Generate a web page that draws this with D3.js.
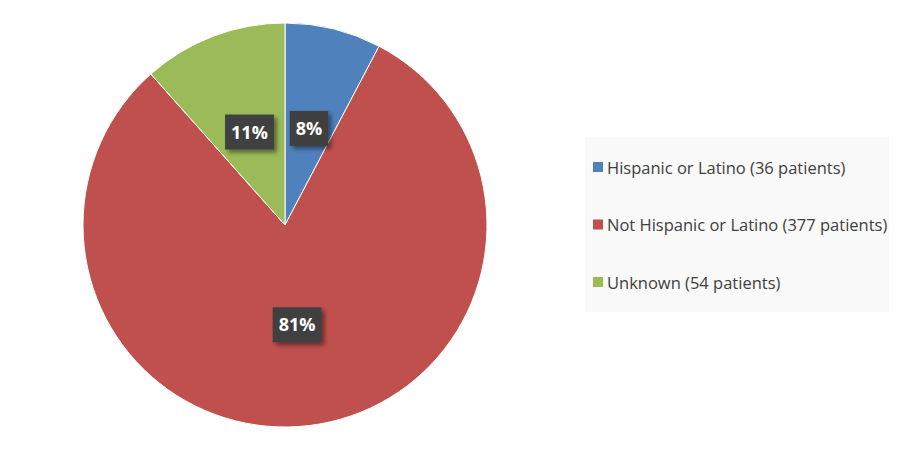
<!DOCTYPE html>
<html><head><meta charset="utf-8">
<script src="https://cdn.jsdelivr.net/npm/d3@7"></script>
<style>body{margin:0;background:#fff;}svg{display:block;}</style>
</head><body>
<svg id="chart" width="900" height="450"></svg>
<script>
const categories = ["Hispanic or Latino (36 patients)", "Not Hispanic or Latino (377 patients)", "Unknown (54 patients)"];
const values = [36, 377, 54];
const pctLabels = ["8%", "81%", "11%"];
const colors = ["#4f81bd", "#c0504d", "#9bbb59"];

const svg = d3.select("#chart");
const defs = svg.append("defs");
const f = defs.append("filter").attr("id","sh").attr("x","-30%").attr("y","-30%").attr("width","170%").attr("height","170%");
f.append("feDropShadow").attr("dx",3).attr("dy",3).attr("stdDeviation",2).attr("flood-color","#000").attr("flood-opacity",0.45);

const cx = 285, cy = 225, r = 202;
const g = svg.append("g").attr("transform", `translate(${cx},${cy})`);
const pie = d3.pie().sort(null).value(d => d)(values);
const arc = d3.arc().innerRadius(0).outerRadius(r);
const labelArc = d3.arc().innerRadius(100).outerRadius(100);

g.selectAll("path").data(pie).join("path")
  .attr("d", arc).attr("fill", (d,i) => colors[i])
  .attr("stroke", "#fff").attr("stroke-width", 1);

pie.forEach((d,i) => {
  const [x,y] = labelArc.centroid(d);
  const lg = g.append("g").attr("transform", `translate(${x},${y})`);
  const rect = lg.append("rect").attr("fill","#404040").attr("filter","url(#sh)");
  const t = lg.append("text").text(pctLabels[i])
    .attr("text-anchor","middle").attr("dominant-baseline","central")
    .attr("font-family","'Open Sans', sans-serif").attr("font-weight","bold")
    .attr("font-size",18).attr("fill","#fff");
  const w = t.node().getComputedTextLength();
  rect.attr("x", -w/2 - 6).attr("y", -17).attr("width", w + 12).attr("height", 35);
});

// legend
const lx = 585, ly = 137;
svg.append("rect").attr("x", lx).attr("y", ly).attr("width", 304).attr("height", 175).attr("fill", "#f9f9f9");
const ys = d3.scalePoint().domain(categories).range([167, 282]);
const leg = svg.append("g");
categories.forEach((c,i) => {
  leg.append("rect").attr("x", 593).attr("y", ys(c) - 5).attr("width", 10).attr("height", 10).attr("fill", colors[i]);
  leg.append("text").attr("x", 607).attr("y", ys(c)).attr("dominant-baseline","central")
    .attr("font-family","'Open Sans', sans-serif").attr("font-size", 16.5).attr("fill","#404040").text(c);
});
</script>
</body></html>
